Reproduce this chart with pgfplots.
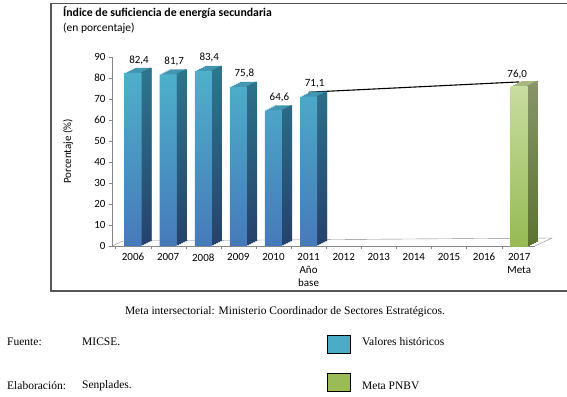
\documentclass[border=0pt]{standalone}
\usepackage{pgfplots}
\pgfplotsset{compat=1.18}
\usepackage{pgfplotstable}
\usepackage{fontspec}
\setmainfont{Carlito}
\newfontfamily\timesfont{Liberation Serif}
\definecolor{frontTop}{RGB}{78,176,202}
\definecolor{frontBot}{RGB}{70,122,186}
\definecolor{sideTop}{RGB}{45,118,142}
\definecolor{sideBot}{RGB}{38,66,108}
\definecolor{topFace}{RGB}{66,150,176}
\definecolor{gFrontTop}{RGB}{200,220,160}
\definecolor{gFrontBot}{RGB}{150,186,84}
\definecolor{gSideTop}{RGB}{135,148,105}
\definecolor{gSideBot}{RGB}{92,116,48}
\definecolor{gTop}{RGB}{168,182,128}
\definecolor{axisgray}{RGB}{134,134,134}
\definecolor{framegray}{RGB}{85,85,85}
\definecolor{legblue}{RGB}{75,172,198}
\definecolor{leggreen}{RGB}{155,187,89}

\pgfplotstableread{
x y
0 82.4
1 81.7
2 83.4
3 75.8
4 64.6
5 71.1
}\hist
\pgfplotstableread{
x y
11 76.0
}\meta

\begin{document}
\begin{tikzpicture}[x=1pt,y=1pt]
\useasboundingbox (0,0) rectangle (567,-396);
\coordinate (O) at (112,-246);
\draw[line width=1.4pt, framegray] (51,-3.5) rectangle (580,-291);
\node[anchor=west, inner sep=0pt, font=\bfseries\fontsize{11.8}{14}\selectfont] at (63,-13) {Índice de suficiencia de energía secundaria};
\node[anchor=west, inner sep=0pt, font=\fontsize{11.5}{14}\selectfont] at (63,-28) {(en porcentaje)};

\begin{axis}[
  at={(O)}, anchor=south west,
  scale only axis, width=423pt, height=189pt,
  xmin=-0.6, xmax=11.45, ymin=0, ymax=90,
  clip=false,
  axis lines*=left,
  axis line style={draw=axisgray, -},
  /pgf/number format/assume math mode=true,
  /pgf/number format/use comma,
  tick align=outside,
  ytick={0,10,...,90},
  major tick length=3pt, minor tick length=3pt,
  ytick style={draw=axisgray},
  xtick={0,...,11},
  xticklabels={2006,2007,2008,2009,2010,{2011\\Año\\base},2012,2013,2014,2015,2016,{2017\\Meta}},
  major x tick style={draw=none},
  minor xtick={-0.5,0.5,...,11.5},
  minor x tick style={draw=axisgray},
  xticklabel style={align=center, font=\fontsize{11}{13}\selectfont, anchor=north, yshift=-1pt},
  yticklabel style={font=\fontsize{11}{13}\selectfont},
  every axis y label/.style={at={(axis description cs:-0.104,0.5)}, rotate=90, anchor=center},
  ylabel={Porcentaje (\%)},
  ylabel style={font=\fontsize{11}{13}\selectfont},
]
% floor
\draw[axisgray] (axis cs:-0.6,0) -- ([shift={(11pt,5pt)}]axis cs:-0.6,0) -- ([shift={(17pt,8pt)}]axis cs:11.45,0) -- (axis cs:11.45,0);
% trend line
\addplot[black, line width=1.1pt, yshift=4.5pt, mark=none] coordinates {(5,71.1) (11,76.0)};
% historical bars: depth
\pgfplotsinvokeforeach{1,2,3,4,5}{
  \addplot[ybar, bar width=17pt, bar shift={2pt*#1}, yshift={1pt*#1}, draw=none, fill=topFace] table[x=x,y=y]{\hist};
}
\pgfplotsinvokeforeach{1,2,3,4,5}{
  \addplot[ybar, bar width=2.3pt, bar shift={7.5pt+2pt*#1}, yshift={1pt*#1}, draw=none, top color=sideTop, bottom color=sideBot] table[x=x,y=y]{\hist};
}
\addplot[ybar, bar width=17pt, bar shift=0pt, draw=none, top color=frontTop, bottom color=frontBot,
  nodes near coords={\pgfmathprintnumber[fixed,fixed zerofill,precision=1]{\pgfplotspointmeta}},
  every node near coord/.append style={font=\fontsize{11}{13}\selectfont, xshift=6pt, yshift=5pt, text=black}] table[x=x,y=y]{\hist};
% meta bar
\pgfplotsinvokeforeach{1,2,3,4,5}{
  \addplot[ybar, bar width=17pt, bar shift={2pt*#1}, yshift={1pt*#1}, draw=none, fill=gTop] table[x=x,y=y]{\meta};
}
\pgfplotsinvokeforeach{1,2,3,4,5}{
  \addplot[ybar, bar width=2.3pt, bar shift={7.5pt+2pt*#1}, yshift={1pt*#1}, draw=none, top color=gSideTop, bottom color=gSideBot] table[x=x,y=y]{\meta};
}
\addplot[ybar, bar width=17pt, bar shift=0pt, draw=none, top color=gFrontTop, bottom color=gFrontBot,
  nodes near coords={\pgfmathprintnumber[fixed,fixed zerofill,precision=1]{\pgfplotspointmeta}},
  every node near coord/.append style={font=\fontsize{11}{13}\selectfont, xshift=-2pt, yshift=4pt, text=black}] table[x=x,y=y]{\meta};
\end{axis}

\node[font=\timesfont\fontsize{11.5}{13}\selectfont] at (285,-312) {Meta intersectorial: Ministerio Coordinador de Sectores Estratégicos.};
\node[anchor=west, inner sep=0pt, font=\timesfont\fontsize{11.5}{13}\selectfont] at (7,-342) {Fuente:};
\node[anchor=west, inner sep=0pt, font=\timesfont\fontsize{11.5}{13}\selectfont] at (82,-342) {MICSE.};
\node[anchor=west, inner sep=0pt, font=\timesfont\fontsize{11.5}{13}\selectfont] at (7,-386) {Elaboración:};
\node[anchor=west, inner sep=0pt, font=\timesfont\fontsize{11.5}{13}\selectfont] at (82,-386) {Senplades.};
\draw[black, line width=0.9pt, fill=legblue] (327,-335) rectangle (350,-353);
\node[anchor=west, inner sep=0pt, font=\timesfont\fontsize{11.5}{13}\selectfont] at (362,-342) {Valores históricos};
\draw[black, line width=0.9pt, fill=leggreen] (327,-373) rectangle (350,-391);
\node[anchor=west, inner sep=0pt, font=\timesfont\fontsize{11.5}{13}\selectfont] at (362,-386) {Meta PNBV};
\end{tikzpicture}
\end{document}
